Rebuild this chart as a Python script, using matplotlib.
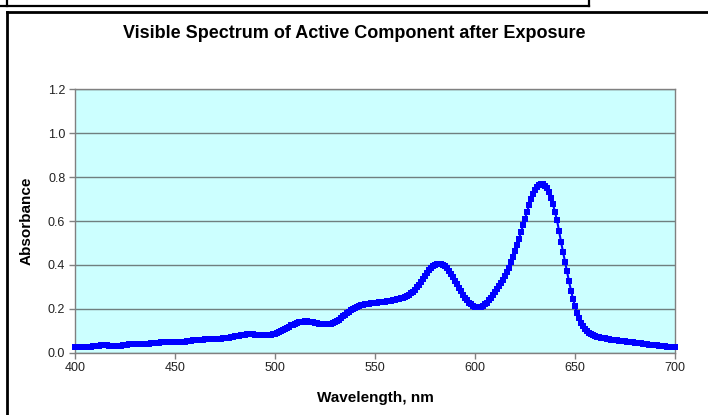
import numpy as np
import matplotlib
matplotlib.use('Agg')
import matplotlib.pyplot as plt
from matplotlib.lines import Line2D

plt.rcParams['font.family'] = ['Liberation Sans', 'DejaVu Sans']

# wavelength 400..700 nm, 1 nm step
wavelength = np.arange(400, 701)

# absorbance, 10 values per row
absorbance = [
    0.027, 0.027, 0.026, 0.026, 0.026, 0.026, 0.026, 0.027, 0.028, 0.029,  # 400
    0.030, 0.031, 0.032, 0.033, 0.034, 0.034, 0.033, 0.032, 0.031, 0.030,  # 410
    0.030, 0.030, 0.031, 0.032, 0.034, 0.035, 0.037, 0.038, 0.039, 0.040,  # 420
    0.040, 0.040, 0.040, 0.040, 0.040, 0.040, 0.040, 0.041, 0.042, 0.043,  # 430
    0.044, 0.045, 0.046, 0.047, 0.048, 0.048, 0.048, 0.048, 0.047, 0.047,  # 440
    0.047, 0.047, 0.047, 0.048, 0.049, 0.050, 0.052, 0.054, 0.055, 0.057,  # 450
    0.058, 0.059, 0.060, 0.060, 0.060, 0.061, 0.061, 0.061, 0.062, 0.062,  # 460
    0.062, 0.063, 0.063, 0.064, 0.065, 0.066, 0.067, 0.068, 0.070, 0.072,  # 470
    0.074, 0.076, 0.078, 0.080, 0.081, 0.082, 0.083, 0.083, 0.083, 0.083,  # 480
    0.082, 0.081, 0.080, 0.080, 0.079, 0.079, 0.079, 0.080, 0.082, 0.084,  # 490
    0.087, 0.090, 0.094, 0.098, 0.103, 0.108, 0.114, 0.119, 0.124, 0.128,  # 500
    0.132, 0.136, 0.139, 0.141, 0.142, 0.143, 0.143, 0.142, 0.141, 0.139,  # 510
    0.137, 0.135, 0.133, 0.131, 0.130, 0.130, 0.130, 0.131, 0.133, 0.136,  # 520
    0.140, 0.145, 0.151, 0.158, 0.165, 0.172, 0.179, 0.186, 0.193, 0.199,  # 530
    0.204, 0.209, 0.213, 0.216, 0.219, 0.221, 0.223, 0.224, 0.225, 0.226,  # 540
    0.227, 0.228, 0.229, 0.230, 0.231, 0.232, 0.234, 0.235, 0.237, 0.239,  # 550
    0.241, 0.243, 0.245, 0.248, 0.251, 0.255, 0.259, 0.264, 0.270, 0.278,  # 560
    0.287, 0.298, 0.310, 0.323, 0.337, 0.351, 0.364, 0.376, 0.386, 0.394,  # 570
    0.400, 0.404, 0.405, 0.404, 0.400, 0.393, 0.384, 0.372, 0.359, 0.344,  # 580
    0.328, 0.311, 0.295, 0.279, 0.264, 0.250, 0.238, 0.228, 0.220, 0.214,  # 590
    0.210, 0.208, 0.208, 0.210, 0.214, 0.220, 0.228, 0.238, 0.250, 0.263,  # 600
    0.276, 0.289, 0.302, 0.316, 0.331, 0.348, 0.367, 0.388, 0.411, 0.436,  # 610
    0.462, 0.490, 0.519, 0.549, 0.580, 0.611, 0.642, 0.672, 0.699, 0.722,  # 620
    0.741, 0.755, 0.764, 0.768, 0.767, 0.761, 0.749, 0.731, 0.706, 0.676,  # 630
    0.641, 0.603, 0.556, 0.505, 0.460, 0.415, 0.370, 0.325, 0.283, 0.245,  # 640
    0.212, 0.183, 0.158, 0.137, 0.120, 0.107, 0.097, 0.090, 0.084, 0.080,  # 650
    0.076, 0.073, 0.071, 0.069, 0.067, 0.065, 0.063, 0.062, 0.060, 0.059,  # 660
    0.058, 0.056, 0.055, 0.054, 0.053, 0.052, 0.050, 0.049, 0.048, 0.047,  # 670
    0.046, 0.045, 0.043, 0.042, 0.041, 0.040, 0.039, 0.037, 0.036, 0.035,  # 680
    0.034, 0.033, 0.032, 0.031, 0.030, 0.029, 0.028, 0.027, 0.026, 0.025,  # 690
    0.024,                                                                 # 700
]

x_ticks = [400, 450, 500, 550, 600, 650, 700]
y_ticks = [0.0, 0.2, 0.4, 0.6, 0.8, 1.0, 1.2]

W, H = 708, 415
fig = plt.figure(figsize=(W / 100, H / 100), dpi=100)
fig.patch.set_facecolor('white')

ax = fig.add_axes([75 / W, 1 - 352.7 / H, 600 / W, 263.4 / H])
ax.set_facecolor('#ccffff')

ax.plot(wavelength, absorbance, color='#0000ff', lw=1.5, marker='s',
        markersize=4.8, markeredgewidth=0, zorder=3, clip_on=False)

ax.set_xlim(400, 700)
ax.set_ylim(0, 1.2)
ax.set_xticks(x_ticks)
ax.set_yticks(y_ticks)
ax.set_yticklabels(['%.1f' % v for v in y_ticks])
ax.grid(axis='y', color='#6f7f7f', lw=1)
ax.set_axisbelow(True)
for s in ax.spines.values():
    s.set_color('#808080')
    s.set_linewidth(1)
ax.tick_params(direction='out', length=4, width=1, color='#808080',
               labelsize=9, labelcolor='#222222', pad=3)

ax.set_xlabel('Wavelength, nm', fontsize=11, fontweight='bold', labelpad=12)
ax.set_ylabel('Absorbance', fontsize=11, fontweight='bold', labelpad=10)
fig.text(354 / W, 1 - 33 / H, 'Visible Spectrum of Active Component after Exposure',
         ha='center', va='center', fontsize=13, fontweight='bold')

# outer chart frame and the box edge above it
def px_line(xs, ys, lw):
    fig.add_artist(Line2D([x / W for x in xs], [1 - y / H for y in ys],
                          color='black', lw=lw, transform=fig.transFigure))

px_line([7, 708], [12, 12], 2)
px_line([7, 7], [12, 415], 2)
px_line([0, 589], [6, 6], 1.6)
px_line([589, 589], [0, 6], 1.6)
px_line([7, 7], [0, 6], 1.6)

fig.savefig('out.png', dpi=100)
